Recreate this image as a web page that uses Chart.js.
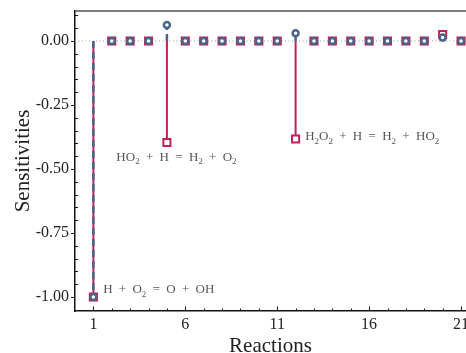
<!DOCTYPE html>
<html>
<head>
<meta charset="utf-8">
<script src="https://cdn.jsdelivr.net/npm/chart.js@4/dist/chart.umd.min.js"></script>
<style>
  html, body { margin: 0; padding: 0; background: #fff; }
  #wrap { width: 466px; height: 353px; }
</style>
</head>
<body>
<div id="wrap"><canvas id="chart" width="466" height="353"></canvas></div>
<script>
// dane
const reactions = [1, 2, 3, 4, 5, 6, 7, 8, 9, 10, 11, 12, 13, 14, 15, 16, 17, 18, 19, 20, 21];
const squareSens = [-1.0, 0, 0, 0, -0.397, 0, 0, 0, 0, 0, 0, -0.383, 0, 0, 0, 0, 0, 0, 0, 0.025, 0];
const circleSens = [-1.0, 0, 0, 0, 0.0625, 0, 0, 0, 0, 0, 0, 0.03, 0, 0, 0, 0, 0, 0, 0, 0.013, 0];
const xTicks = [1, 6, 11, 16, 21];
const yTicks = [0, -0.25, -0.5, -0.75, -1];
const yTickLabels = ['0.00', '-0.25', '-0.50', '-0.75', '-1.00'];
const notes = [
    { x: 1.53, y: -0.973, text: 'H + O_2 = O + OH' },
    { x: 2.25, y: -0.455, text: 'HO_2 + H = H_2 + O_2' },
    { x: 12.52, y: -0.375, text: 'H_2O_2 + H = H_2 + HO_2' }
];

const RED = '#c41e52';
const BLUE = '#4a6488';
const SERIF = "'Liberation Serif', 'Times New Roman', serif";

// rysowanie tekstu z indeksami dolnymi
function drawChem(ctx, text, x, y) {
    const size = 13, sub = 9, gap = 6.3;
    ctx.fillStyle = '#555';
    ctx.textBaseline = 'middle';
    ctx.textAlign = 'left';
    text.split(' ').forEach(tok => {
        for (let i = 0; i < tok.length; i++) {
            if (tok[i] === '_') {
                i++;
                ctx.font = `${sub}px ${SERIF}`;
                ctx.fillText(tok[i], x, y + 4.5);
                x += ctx.measureText(tok[i]).width;
            } else {
                ctx.font = `${size}px ${SERIF}`;
                ctx.fillText(tok[i], x, y);
                x += ctx.measureText(tok[i]).width;
            }
        }
        x += gap;
    });
}

const stemsPlugin = {
    id: 'stems',
    beforeDatasetsDraw(chart) {
        const { ctx, chartArea: a, scales: { x, y } } = chart;
        ctx.save();
        ctx.beginPath();
        ctx.rect(a.left, a.top, a.right - a.left, a.bottom - a.top);
        ctx.clip();
        // linia zera
        ctx.strokeStyle = '#9a9a9a';
        ctx.lineWidth = 1;
        ctx.setLineDash([1, 2.5]);
        ctx.beginPath();
        ctx.moveTo(a.left, y.getPixelForValue(0));
        ctx.lineTo(a.right, y.getPixelForValue(0));
        ctx.stroke();
        // pnie
        const y0 = y.getPixelForValue(0);
        ctx.setLineDash([]);
        ctx.strokeStyle = RED;
        ctx.lineWidth = 2;
        reactions.forEach((r, i) => {
            const px = x.getPixelForValue(r);
            ctx.beginPath();
            ctx.moveTo(px, y0);
            ctx.lineTo(px, y.getPixelForValue(squareSens[i]));
            ctx.stroke();
        });
        ctx.setLineDash([7, 4]);
        ctx.strokeStyle = BLUE;
        ctx.lineWidth = 2.5;
        reactions.forEach((r, i) => {
            const px = x.getPixelForValue(r);
            ctx.beginPath();
            ctx.moveTo(px, y0);
            ctx.lineTo(px, y.getPixelForValue(circleSens[i]));
            ctx.stroke();
        });
        ctx.restore();
    },
    afterDraw(chart) {
        const { ctx, chartArea: a, scales: { x, y } } = chart;
        ctx.save();
        // górna ramka
        ctx.strokeStyle = '#555';
        ctx.lineWidth = 1.5;
        ctx.beginPath();
        ctx.moveTo(a.left, a.top);
        ctx.lineTo(a.right, a.top);
        ctx.stroke();
        // znaczniki osi
        ctx.strokeStyle = '#111';
        ctx.lineWidth = 1;
        ctx.beginPath();
        yTicks.forEach(v => {
            const py = Math.round(y.getPixelForValue(v)) + 0.5;
            ctx.moveTo(a.left - 4, py);
            ctx.lineTo(a.left, py);
        });
        for (let k = -21; k <= 2; k++) {
            if (k % 5 === 0) continue;
            const py = Math.round(y.getPixelForValue(k * 0.05)) + 0.5;
            ctx.moveTo(a.left, py);
            ctx.lineTo(a.left + 3, py);
        }
        for (let k = 1; k <= 21; k++) {
            const px = Math.round(x.getPixelForValue(k)) + 0.5;
            const len = xTicks.includes(k) ? 4.5 : 2.5;
            ctx.moveTo(px, a.bottom);
            ctx.lineTo(px, a.bottom - len);
        }
        ctx.stroke();
        // opisy reakcji
        notes.forEach(n => drawChem(ctx, n.text, x.getPixelForValue(n.x), y.getPixelForValue(n.y)));
        ctx.restore();
    }
};

const toPoints = vals => reactions.map((r, i) => ({ x: r, y: vals[i] }));

new Chart(document.getElementById('chart').getContext('2d'), {
    type: 'line',
    data: {
        datasets: [
            {
                label: 'circles',
                data: toPoints(circleSens),
                showLine: false,
                order: 0,
                pointStyle: 'circle',
                pointRadius: 3,
                pointBorderWidth: 2.5,
                pointBackgroundColor: '#fff',
                pointBorderColor: BLUE
            },
            {
                label: 'squares',
                data: toPoints(squareSens),
                showLine: false,
                order: 1,
                pointStyle: 'rect',
                pointRadius: 5,
                pointBorderWidth: 2,
                pointBackgroundColor: '#fff',
                pointBorderColor: RED
            }
        ]
    },
    options: {
        responsive: false,
        animation: false,
        layout: { autoPadding: false, padding: { top: 11, right: 0, left: 0, bottom: 0 } },
        plugins: { legend: { display: false }, tooltip: { enabled: false } },
        scales: {
            x: {
                type: 'linear',
                min: 0,
                max: 21.27,
                grid: { display: false, drawTicks: false },
                border: { display: true, color: '#111', width: 1.5 },
                afterBuildTicks: s => { s.ticks = xTicks.map(v => ({ value: v })); },
                afterFit: s => { s.height = 42; s.paddingLeft = 0; s.paddingRight = 0; },
                ticks: {
                    autoSkip: false,
                    maxRotation: 0,
                    padding: 4,
                    color: '#222',
                    font: { family: SERIF, size: 16 },
                    callback: v => String(v)
                },
                title: {
                    display: true,
                    text: 'Reactions',
                    color: '#222',
                    font: { family: SERIF, size: 21, lineHeight: 0.6 },
                    padding: { top: 0, bottom: 0 }
                }
            },
            y: {
                min: -1.055,
                max: 0.117,
                grid: { display: false, drawTicks: false },
                border: { display: true, color: '#111', width: 1.5 },
                afterBuildTicks: s => { s.ticks = yTicks.map(v => ({ value: v })); },
                afterFit: s => { s.width = 75; s.paddingTop = 0; s.paddingBottom = 0; },
                ticks: {
                    autoSkip: false,
                    padding: 6,
                    color: '#222',
                    font: { family: SERIF, size: 16 },
                    callback: v => yTickLabels[yTicks.indexOf(v)]
                },
                title: {
                    display: true,
                    text: 'Sensitivities',
                    color: '#222',
                    font: { family: SERIF, size: 21, lineHeight: 1 },
                    padding: { top: 13, bottom: 0 }
                }
            }
        }
    },
    plugins: [stemsPlugin]
});
</script>
</body>
</html>
